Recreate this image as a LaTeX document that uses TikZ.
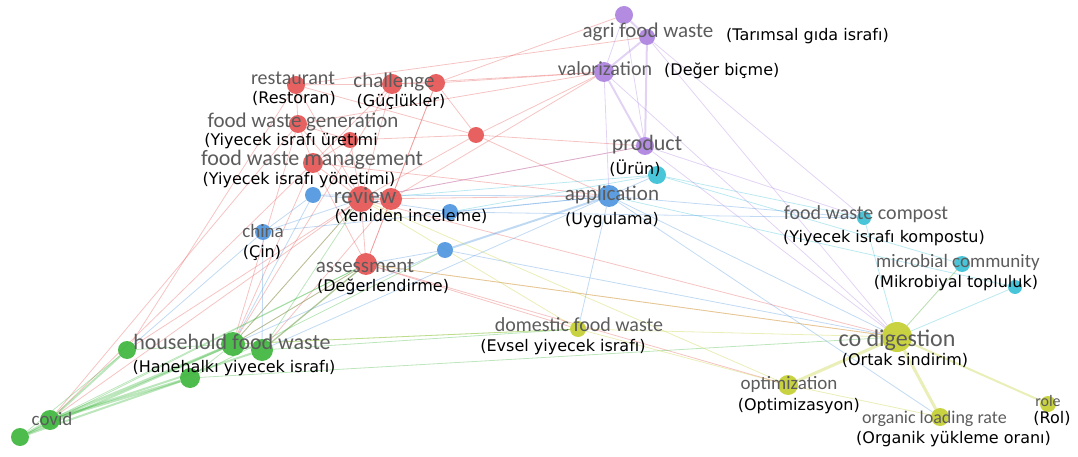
\documentclass[tikz,border=0pt]{standalone}
\usepackage{fontspec}
\setmainfont{Carlito}
\newfontfamily\trfont{DejaVu Sans}
\usetikzlibrary{backgrounds}
\definecolor{kred}{RGB}{230,84,84}
\definecolor{kblue}{RGB}{78,150,222}
\definecolor{kcyan}{RGB}{58,192,214}
\definecolor{kpurple}{RGB}{172,130,224}
\definecolor{kgreen}{RGB}{62,182,62}
\definecolor{kyellow}{RGB}{196,206,48}
\definecolor{klabel}{RGB}{92,92,92}
\tikzset{
  kw/.style={circle,inner sep=0pt,minimum size=#1,fill opacity=.92},
  kw/.default=18pt,
  en/.style={text=klabel,font=\fontsize{#1}{#1}\selectfont,inner sep=0pt,
    text height=1.6ex,text depth=.4ex},
  en/.default=20,
  tr/.style={text=black,font=\trfont\fontsize{16}{16}\selectfont,inner sep=0pt,
    text height=1.6ex,text depth=.4ex},
  link/.style={line width=.8pt,draw opacity=.35}
}
\begin{document}
\begin{tikzpicture}[x=1pt,y=-1pt]
      \useasboundingbox (0,0) rectangle (1078,457);
      % keywords
      \path
        (296,85) node[kw=18pt,fill=kred] (restaurant){}
        (392,84) node[kw=20pt,fill=kred] (chalA){}
        (436,83) node[kw=18pt,fill=kred] (chalB){}
        (298,124) node[kw=18pt,fill=kred] (fwgen){}
        (350,140) node[kw=16pt,fill=kred] (redC){}
        (476,135) node[kw=16pt,fill=kred] (redD){}
        (313,163) node[kw=20pt,fill=kred] (fwman){}
        (361,199) node[kw=26pt,fill=kred] (review){}
        (391,199) node[kw=22pt,fill=kred] (reviewB){}
        (366,264) node[kw=22pt,fill=kred] (assess){}
        (313,195) node[kw=16pt,fill=kblue] (blueA){}
        (263,232) node[kw=16pt,fill=kblue] (china){}
        (450,212) node[kw=16pt,fill=kblue] (blueB){}
        (445,250) node[kw=16pt,fill=kblue] (blueC){}
        (609,196) node[kw=22pt,fill=kblue] (applic){}
        (657,175) node[kw=18pt,fill=kcyan] (cyanP){}
        (864,218) node[kw=14pt,fill=kcyan] (compost){}
        (962,264) node[kw=16pt,fill=kcyan] (microb){}
        (1015,287) node[kw=14pt,fill=kcyan] (cyanR){}
        (624,15) node[kw=18pt,fill=kpurple] (purpTop){}
        (647,37) node[kw=16pt,fill=kpurple] (agri){}
        (604,72) node[kw=20pt,fill=kpurple] (valor){}
        (645,146) node[kw=18pt,fill=kpurple] (product){}
        (127,350) node[kw=18pt,fill=kgreen] (hhA){}
        (233,344) node[kw=24pt,fill=kgreen] (hh){}
        (262,350) node[kw=22pt,fill=kgreen] (hhB){}
        (190,378) node[kw=20pt,fill=kgreen] (hhC){}
        (50,420) node[kw=20pt,fill=kgreen] (covid){}
        (20,437) node[kw=18pt,fill=kgreen] (covidB){}
        (578,329) node[kw=16pt,fill=kyellow] (domestic){}
        (897,337) node[kw=30pt,fill=kyellow] (codig){}
        (788,385) node[kw=20pt,fill=kyellow] (optim){}
        (940,417) node[kw=18pt,fill=kyellow] (olr){}
        (1048,404) node[kw=16pt,fill=kyellow] (role){};
      % labels
      \path
        (293,82) node[en] (restaurant-l){restaurant}
        (294,101) node[tr] (restaurant-t){(Restoran)}
        (394,85) node[en=21] (chal-l){challenge}
        (401,104) node[tr] (chal-t){(Güçlükler)}
        (303,125) node[en=21] (fwgen-l){food waste generation}
        (291,143) node[tr] (fwgen-t){(Yiyecek israfı üretimi}
        (312,163) node[en=22] (fwman-l){food waste management}
        (299,182) node[tr] (fwman-t){(Yiyecek israfı yönetimi)}
        (365,201) node[en=23] (review-l){review}
        (411,219) node[tr] (review-t){(Yeniden inceleme)}
        (263,235) node[en=19] (china-l){china}
        (262,255) node[tr] (china-t){(Çin)}
        (365,270) node[en=21] (assess-l){assessment}
        (383,289) node[tr] (assess-t){(Değerlendirme)}
        (232,347) node[en=22] (hh-l){household food waste}
        (234,370) node[tr] (hh-t){(Hanehalkı yiyecek israfı)}
        (52,423) node[en=19] (covid-l){covid}
        (648,35) node[en=21] (agri-l){agri food waste}
        (726,38) node[tr,anchor=west] (agri-t){(Tarımsal gıda israfı)}
        (605,73) node[en=20] (valor-l){valorization}
        (664,73) node[tr,anchor=west] (valor-t){(Değer biçme)}
        (647,148) node[en=22] (product-l){product}
        (635,172) node[tr] (product-t){(Ürün)}
        (612,198) node[en=21] (applic-l){application}
        (612,222) node[tr] (applic-t){(Uygulama)}
        (866,217) node[en] (compost-l){food waste compost}
        (884,240) node[tr] (compost-t){(Yiyecek israfı kompostu)}
        (958,265) node[en=19] (microb-l){microbial community}
        (956,285) node[tr] (microb-t){(Mikrobiyal topluluk)}
        (579,329) node[en] (domestic-l){domestic food waste}
        (563,349) node[tr] (domestic-t){(Evsel yiyecek israfı)}
        (897,344) node[en=24] (codig-l){co digestion}
        (905,363) node[tr] (codig-t){(Ortak sindirim)}
        (789,387) node[en=19] (optim-l){optimization}
        (860,408) node[tr,anchor=east] (optim-t){(Optimizasyon)}
        (862,421) node[en=18,anchor=west] (olr-l){organic loading rate}
        (856,441) node[tr,anchor=west] (olr-t){(Organik yükleme oranı)}
        (1048,404) node[en=16] (role-l){role}
        (1052,421) node[tr] (role-t){(Rol)};
      \begin{scope}[on background layer]
      \begin{scope}[link,kred]
        \draw (restaurant) to (chalA);
        \draw (restaurant) to (fwgen);
        \draw (restaurant) to (review);
        \draw (restaurant) to (redD);
        \draw (restaurant) to (hhA);
        \draw (restaurant) to (agri);
        \draw (chalA) to (chalB);
        \draw (chalA) to (review);
        \draw (chalA) to (fwman);
        \draw (chalA) to (valor);
        \draw (chalA) to (hh);
        \draw (chalB) to (redD);
        \draw (chalB) to (valor);
        \draw (chalB) to (purpTop);
        \draw (chalB) to (reviewB);
        \draw (chalB) to (assess);
        \draw (fwgen) to (review);
        \draw (fwgen) to (fwman);
        \draw (fwgen) to (redC);
        \draw (fwgen) to (hh);
        \draw (fwgen) to (covid);
        \draw (fwgen) to (valor);
        \draw (redC) to (review);
        \draw (redC) to (fwman);
        \draw (redC) to (redD);
        \draw (redD) to (review);
        \draw (redD) to (valor);
        \draw (redD) to (product);
        \draw (redD) to (applic);
        \draw (fwman) to (review);
        \draw (fwman) to (assess);
        \draw (fwman) to (hh);
        \draw (fwman) to (covid);
        \draw (fwman) to (applic);
        \draw (review) to (assess);
        \draw (review) to (reviewB);
        \draw (review) to (applic);
        \draw (review) to (hh);
        \draw (review) to (hhA);
        \draw (review) to (covid);
        \draw (review) to (product);
        \draw (review) to (codig);
        \draw (reviewB) to (assess);
        \draw (reviewB) to (valor);
        \draw (reviewB) to (hhB);
        \draw (assess) to (hh);
        \draw (assess) to (hhB);
        \draw (assess) to (codig);
        \draw (assess) to (optim);
        \draw (assess) to (domestic);
      \end{scope}
      \begin{scope}[link,kblue]
        \draw (blueA) to (review);
        \draw (blueA) to (china);
        \draw (blueA) to (hh);
        \draw (blueA) to (applic);
        \draw (china) to (hhA);
        \draw (china) to (review);
        \draw (china) to (hhB);
        \draw (china) to (applic);
        \draw (blueB) to (applic);
        \draw (blueB) to (review);
        \draw (blueB) to (compost);
        \draw (blueC) to (hh);
        \draw (blueC) to (assess);
        \draw (blueC) to (codig);
        \draw[line width=2pt] (blueC) to (applic);
        \draw (applic) to (codig);
        \draw (applic) to (compost);
        \draw (applic) to (domestic);
        \draw (applic) to (cyanP);
        \draw (applic) to (hhB);
        \draw (applic) to (olr);
      \end{scope}
      \begin{scope}[link,kcyan]
        \draw (cyanP) to (compost);
        \draw (cyanP) to (review);
        \draw (cyanP) to (blueB);
        \draw (cyanP) to (microb);
        \draw (compost) to (codig);
        \draw (microb) to (codig);
        \draw (cyanR) to (codig);
        \draw (cyanR) to (applic);
      \end{scope}
      \begin{scope}[link,kpurple]
        \draw[line width=2pt] (purpTop) to (agri);
        \draw (purpTop) to (valor);
        \draw (purpTop) to (product);
        \draw[line width=2pt] (agri) to (valor);
        \draw[line width=2pt] (agri) to (product);
        \draw[line width=2pt] (valor) to (product);
        \draw (valor) to (applic);
        \draw (valor) to (codig);
        \draw (agri) to (codig);
        \draw (agri) to (compost);
        \draw (product) to (compost);
        \draw (product) to (codig);
        \draw (product) to (review);
      \end{scope}
      \begin{scope}[link,kgreen]
        \draw[line width=2pt] (covid) to (hhA);
        \draw[line width=2.5pt] (covid) to (hh);
        \draw[line width=2pt] (covid) to (hhB);
        \draw[line width=2.5pt] (covid) to (hhC);
        \draw[line width=2pt] (covidB) to (hh);
        \draw[line width=2pt] (covidB) to (hhC);
        \draw (covidB) to (hhA);
        \draw[line width=2pt] (covidB) to (covid);
        \draw (hhA) to (hh);
        \draw[line width=2pt] (hh) to (hhB);
        \draw (hhC) to (hh);
        \draw[line width=1.5pt] (hhB) to (assess);
        \draw (hh) to (assess);
        \draw (hh) to (review);
        \draw (hhB) to (domestic);
        \draw (hh) to (domestic);
        \draw (hhC) to (blueC);
        \draw (covid) to (assess);
        \draw (hhB) to (review);
        \draw (covidB) to (assess);
        \draw (hhC) to (codig);
      \end{scope}
      \begin{scope}[link,kyellow]
        \draw (domestic) to (codig);
        \draw[line width=3pt] (optim) to (codig);
        \draw[line width=3pt] (olr) to (codig);
        \draw[line width=2pt] (role) to (codig);
        \draw (domestic) to (optim);
        \draw (optim) to (olr);
        \draw (domestic) to (hh);
        \draw (codig) to (assess);
        \draw (domestic) to (review);
        \draw (optim) to (review);
        \draw (codig) to (microb);
      \end{scope}
      \end{scope}
    \end{tikzpicture}
\end{document}
